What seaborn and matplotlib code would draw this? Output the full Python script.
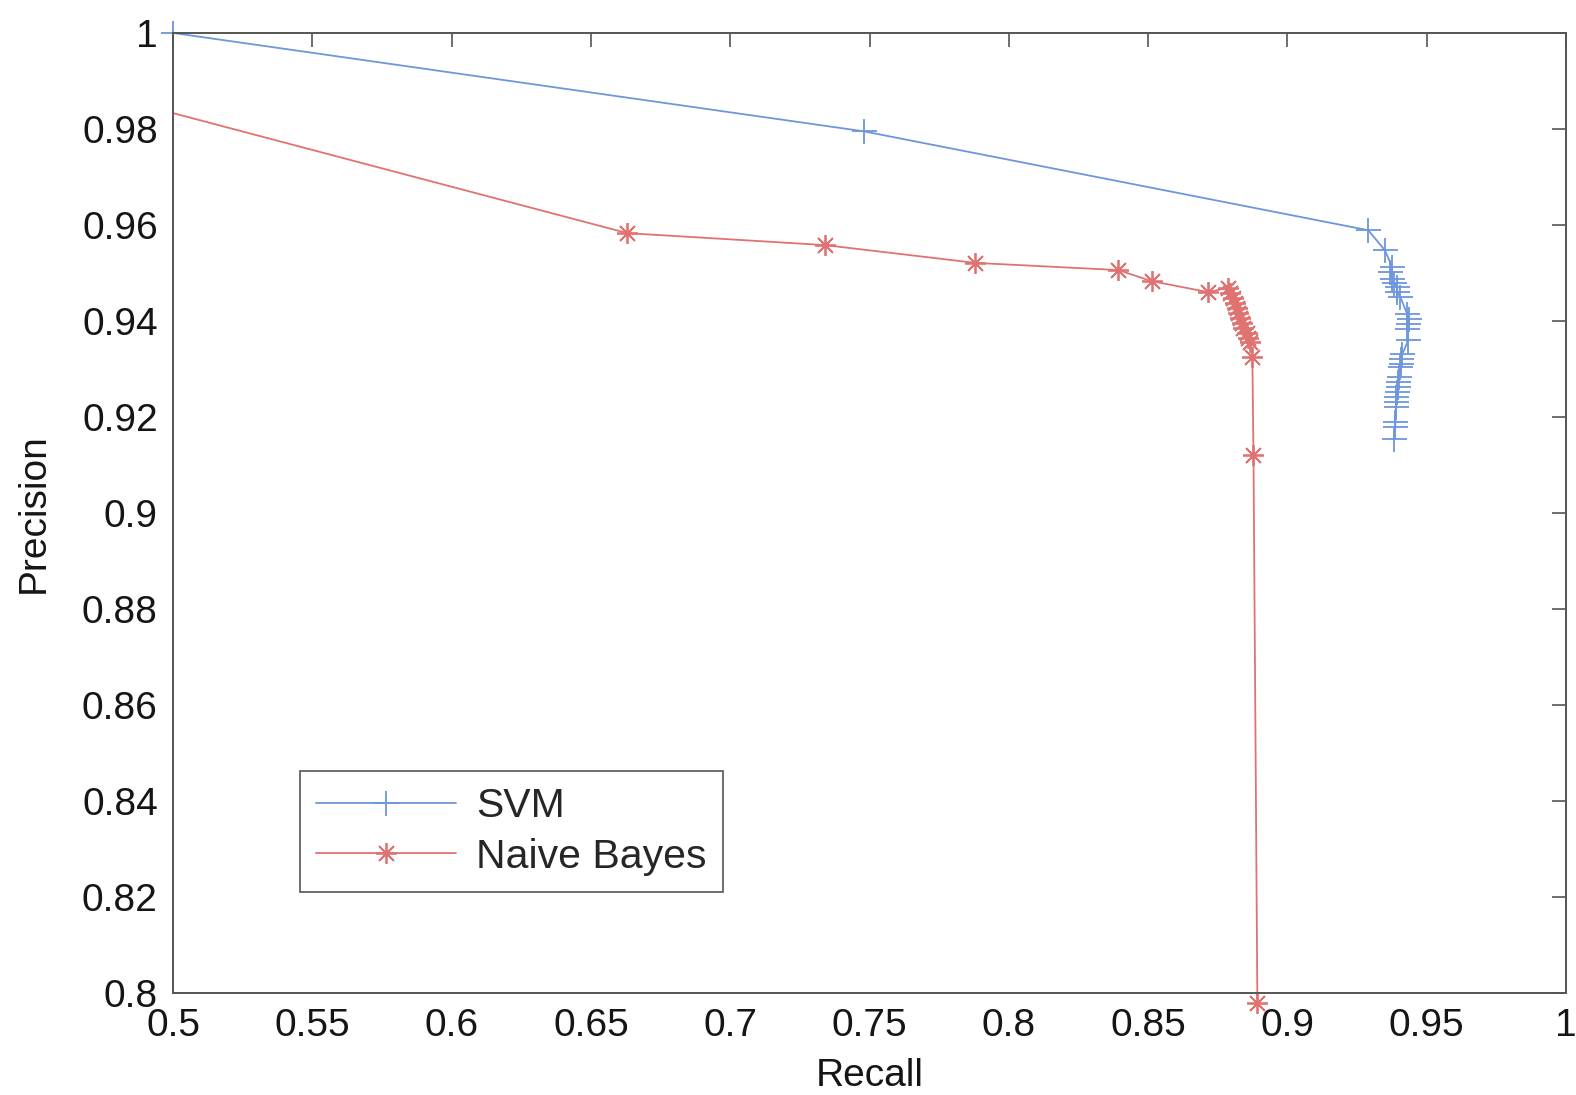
import numpy as np
import pandas as pd
import seaborn as sns
from matplotlib import pyplot as plt

# precision / recall pairs
svm_recall = [0.5, 0.748, 0.929, 0.935, 0.9376, 0.9369, 0.9376, 0.9383, 0.9394, 0.9394,
              0.9405, 0.943, 0.9437, 0.9434, 0.943, 0.9434, 0.9412, 0.9409, 0.9409,
              0.9405, 0.940, 0.9398, 0.9398, 0.9394, 0.939, 0.939, 0.939, 0.9387,
              0.9387, 0.9383]
svm_precision = [1.0, 0.9795, 0.9589, 0.9547, 0.9512, 0.9502, 0.9487, 0.948, 0.947, 0.946,
                 0.945, 0.9414, 0.9404, 0.9394, 0.9383, 0.936, 0.9331, 0.932, 0.931,
                 0.9304, 0.9283, 0.9273, 0.9263, 0.9252, 0.9242, 0.9232, 0.9221, 0.919,
                 0.918, 0.9155]

nb_recall = [0.5, 0.663, 0.7341, 0.788, 0.8393, 0.8512, 0.8716, 0.8785, 0.8795, 0.8806,
             0.8813, 0.882, 0.8824, 0.8831, 0.8838, 0.8842, 0.8856, 0.886, 0.8867,
             0.8874, 0.8878, 0.8892]
nb_precision = [0.9833, 0.9583, 0.9558, 0.9521, 0.9506, 0.9483, 0.946, 0.9469, 0.9458,
                0.9448, 0.9438, 0.9427, 0.9417, 0.9406, 0.9396, 0.9385, 0.9375, 0.9365,
                0.9356, 0.9325, 0.9121, 0.798]

x_ticks = [0.5, 0.55, 0.6, 0.65, 0.7, 0.75, 0.8, 0.85, 0.9, 0.95, 1]
x_labels = ['0.5', '0.55', '0.6', '0.65', '0.7', '0.75', '0.8', '0.85', '0.9', '0.95', '1']
y_ticks = [0.8, 0.82, 0.84, 0.86, 0.88, 0.9, 0.92, 0.94, 0.96, 0.98, 1]
y_labels = ['0.8', '0.82', '0.84', '0.86', '0.88', '0.9', '0.92', '0.94', '0.96', '0.98', '1']

svm_df = pd.DataFrame({'Recall': svm_recall, 'Precision': svm_precision})
nb_df = pd.DataFrame({'Recall': nb_recall, 'Precision': nb_precision})

sns.set_style('white')
plt.rcParams['font.family'] = ['Liberation Sans', 'DejaVu Sans']

fig = plt.figure(figsize=(15.76, 10.95), dpi=100)
ax = fig.add_axes([0.1098, 0.0932, 0.8839, 0.8767])

blue = '#6e96dc'
red = '#e07272'
sns.lineplot(data=svm_df, x='Recall', y='Precision', ax=ax, sort=False, estimator=None,
             color=blue, linewidth=1.3, marker='+', markersize=18,
             markeredgewidth=1.3, markeredgecolor=blue, label='SVM', clip_on=False)
# the first NB point sits on the left edge with no visible marker
sns.lineplot(data=nb_df, x='Recall', y='Precision', ax=ax, sort=False, estimator=None,
             color=red, linewidth=1.3, marker=(8, 2, 0), markersize=15,
             markeredgewidth=1.3, markeredgecolor=red, label='Naive Bayes', clip_on=False,
             markevery=list(range(1, len(nb_recall))))

ax.set_xlim(0.5, 1)
ax.set_ylim(0.8, 1)
ax.set_xticks(x_ticks)
ax.set_xticklabels(x_labels)
ax.set_yticks(y_ticks)
ax.set_yticklabels(y_labels)
ax.tick_params(direction='in', length=10, width=1.2, color='#555555', labelsize=28,
               top=True, right=True, pad=11, labelcolor='#151515')
for s in ax.spines.values():
    s.set_color('#555555')
    s.set_linewidth(1.4)

ax.set_xlabel('Recall', fontsize=28, labelpad=10, color='#151515')
ax.set_ylabel('Precision', fontsize=28, labelpad=22, color='#151515')

leg = ax.legend(loc='lower left', bbox_to_anchor=(0.091, 0.105), fontsize=29.5,
                frameon=True, fancybox=False, framealpha=1, edgecolor='#555555',
                handlelength=3.4, borderpad=0.4, labelspacing=0.3, handletextpad=0.5,
                borderaxespad=0)
leg.get_frame().set_linewidth(1.2)

fig.savefig('out.png', dpi=100)
